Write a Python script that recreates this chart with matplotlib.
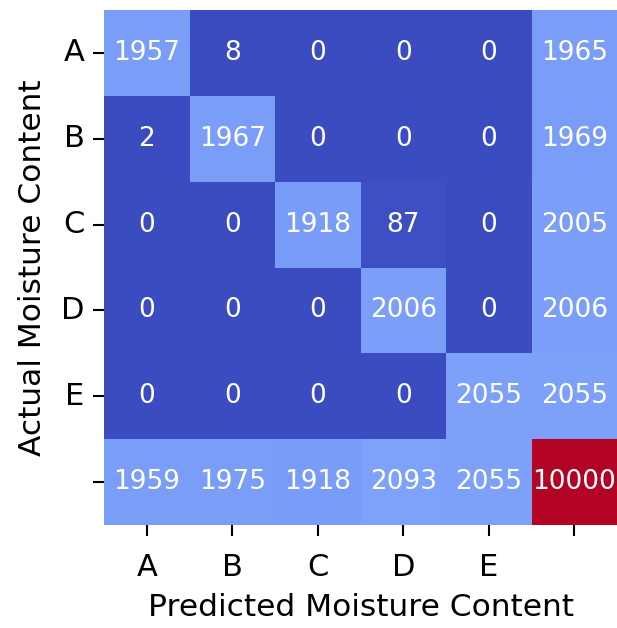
import numpy as np
import matplotlib
matplotlib.use("Agg")
import matplotlib.pyplot as plt
import seaborn as sns

# confusion matrix with totals (last row / column)
labels = ["A", "B", "C", "D", "E", ""]
row_A = [1957, 8, 0, 0, 0, 1965]
row_B = [2, 1967, 0, 0, 0, 1969]
row_C = [0, 0, 1918, 87, 0, 2005]
row_D = [0, 0, 0, 2006, 0, 2006]
row_E = [0, 0, 0, 0, 2055, 2055]
row_total = [1959, 1975, 1918, 2093, 2055, 10000]

cm = np.array([row_A, row_B, row_C, row_D, row_E, row_total])

fig = plt.figure(figsize=(6.17, 6.28), dpi=100)
ax = fig.add_axes([0.1686, 0.164, 0.8314, 0.82])

sns.heatmap(cm, annot=True, fmt="d", cmap="coolwarm", cbar=False,
            xticklabels=labels, yticklabels=labels,
            annot_kws={"size": 19, "color": "white"}, ax=ax)

ax.set_xlabel("Predicted Moisture Content", fontsize=22.5, labelpad=8)
ax.set_ylabel("Actual Moisture Content", fontsize=22.5, labelpad=10)
ax.tick_params(axis="x", labelsize=22, length=8, width=1.5, pad=12)
ax.tick_params(axis="y", labelsize=22, length=8, width=1.5, pad=6)
plt.setp(ax.get_yticklabels(), rotation=0)
plt.setp(ax.get_xticklabels(), rotation=0)

fig.savefig("out.png", dpi=100)
